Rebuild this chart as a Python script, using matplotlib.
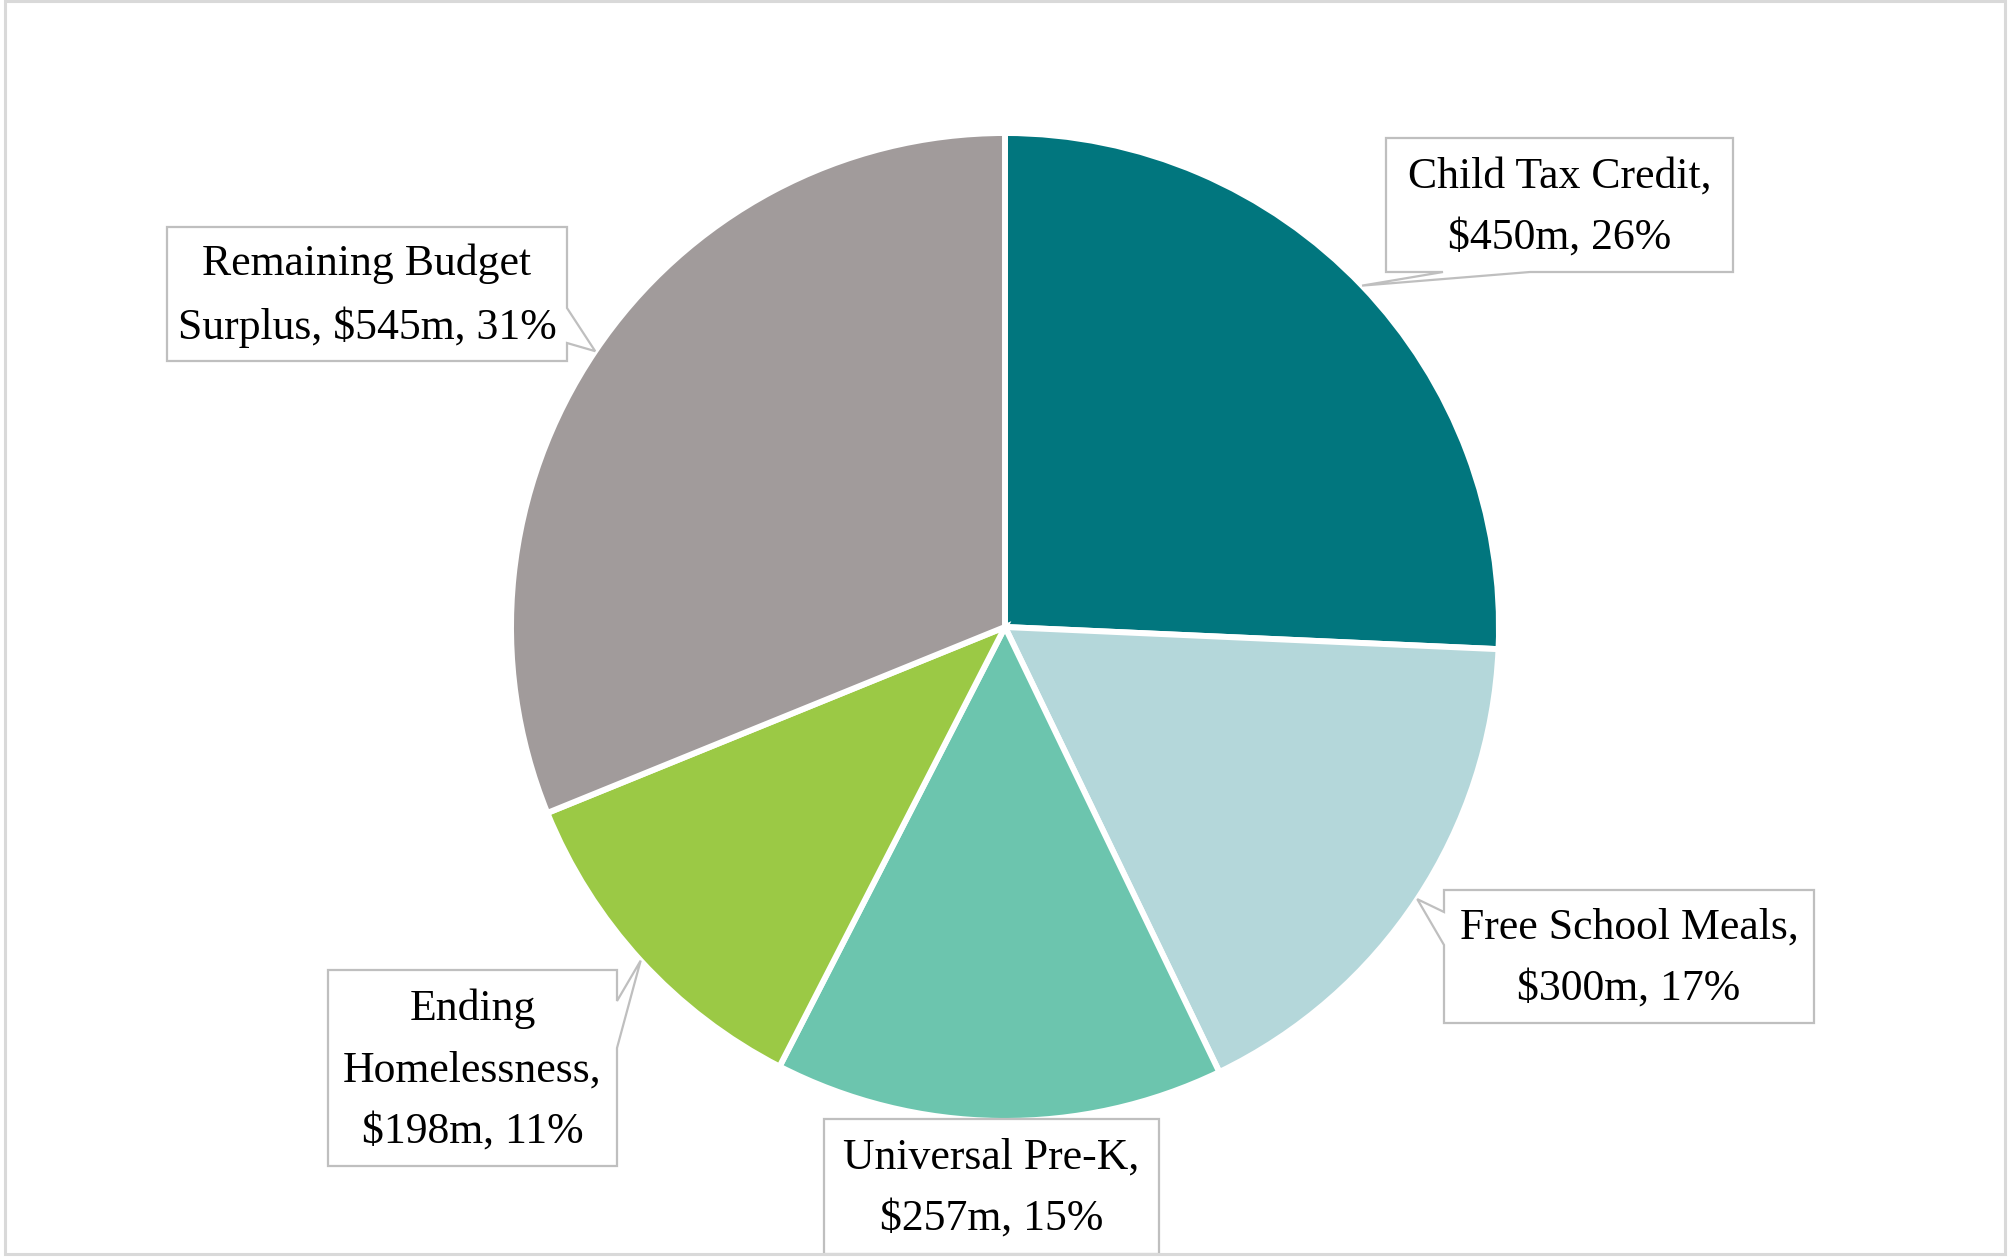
import matplotlib
matplotlib.use('Agg')
import numpy as np
import matplotlib.pyplot as plt
from matplotlib.patches import Polygon, Rectangle

W, H = 2012, 1260

# data
names = ['Child Tax Credit', 'Free School Meals', 'Universal Pre-K',
         'Ending Homelessness', 'Remaining Budget Surplus']
amounts = [450, 300, 257, 198, 545]   # $m
colors = ['#01767E', '#B4D7DA', '#6CC5AE', '#9BC945', '#A19B9B']
# label text as wrapped in the chart
label_fmt = ['Child Tax Credit,\n${v}m, {p}%',
             'Free School Meals,\n${v}m, {p}%',
             'Universal Pre-K,\n${v}m, {p}%',
             'Ending\nHomelessness,\n${v}m, {p}%',
             'Remaining Budget\nSurplus, ${v}m, {p}%']

# callout boxes in image pixels: (x0, y0, x1, y1), pointer side, pointer base span
boxes = [((1386, 138, 1733, 272), 'bottom', (1443, 1530)),
         ((1444, 890, 1814, 1023), 'left', (912, 945)),
         ((824, 1119, 1159, 1254), None, None),
         ((328, 970, 617, 1166), 'right', (1001, 1048)),
         ((167, 227, 567, 361), 'right', (308, 343))]

plt.rcParams['font.family'] = ['Liberation Serif', 'DejaVu Serif']

fig = plt.figure(figsize=(W/100, H/100), dpi=100)
ax = fig.add_axes([0, 0, 1, 1])

cx, cy, R = 1005, H - 627, 494
wedges, _ = ax.pie(amounts, colors=colors, startangle=90, counterclock=False,
                   center=(cx, cy), radius=R, frame=True,
                   wedgeprops=dict(edgecolor='white', linewidth=4.3))
ax.set_xlim(0, W)
ax.set_ylim(0, H)
ax.set_aspect('equal')
ax.axis('off')

total = sum(amounts)

def callout(box, side, base, tip):
    x0, y0, x1, y1 = box
    if side == 'bottom':
        pts = [(x0, y0), (x1, y0), (x1, y1), (base[1], y1), tip, (base[0], y1), (x0, y1)]
    elif side == 'right':
        pts = [(x0, y0), (x1, y0), (x1, base[0]), tip, (x1, base[1]), (x1, y1), (x0, y1)]
    elif side == 'left':
        pts = [(x0, y0), (x1, y0), (x1, y1), (x0, y1), (x0, base[1]), tip, (x0, base[0])]
    else:
        pts = [(x0, y0), (x1, y0), (x1, y1), (x0, y1)]
    pts = [(px, H - py) for px, py in pts]
    ax.add_patch(Polygon(pts, closed=True, facecolor='white', edgecolor='#BFBFBF',
                         linewidth=1.6, zorder=5))

for w, v, fmt, (box, side, base) in zip(wedges, amounts, label_fmt, boxes):
    mid = np.deg2rad((w.theta1 + w.theta2) / 2)
    tip = (cx + R * np.cos(mid), H - (cy + R * np.sin(mid)))
    callout(box, side, base, tip)
    pct = round(v / total * 100)
    txt = fmt.format(v=v, p=pct)
    ax.text((box[0] + box[2]) / 2, H - (box[1] + box[3]) / 2 - 2, txt,
            ha='center', va='center', fontsize=31.5, linespacing=1.68,
            color='black', zorder=6)

# outer chart border
ax.add_patch(Rectangle((5, H - 1254), 2000, 1253, fill=False,
                       edgecolor='#D9D9D9', linewidth=2.2, zorder=7))

fig.savefig('out.png', dpi=100, facecolor='white')
